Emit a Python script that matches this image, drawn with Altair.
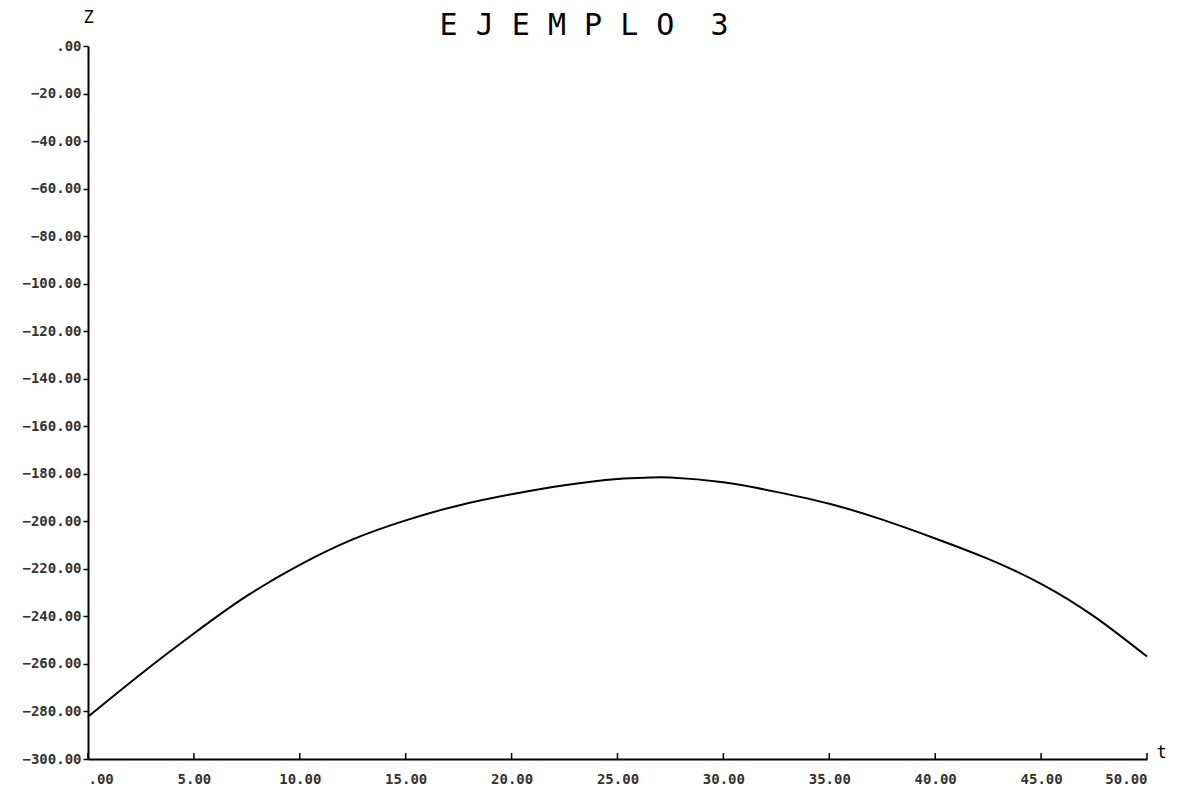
import altair as alt
import pandas as pd

t_values = [0, 2.5, 5, 7.5, 10, 12.5, 15, 17.5, 20, 22.5, 25, 26.5, 27.5, 30,
            32.5, 35, 37.5, 40, 42.5, 45, 47.5, 50]
z_values = [-282.2, -264.2, -247.2, -231.4, -218.3, -207.6, -199.6, -193.3, -188.6,
            -184.8, -182.2, -181.6, -181.6, -183.6, -187.6, -192.6, -199.3, -207.2,
            -215.8, -226.3, -240.0, -256.9]

x_ticks = [0, 5, 10, 15, 20, 25, 30, 35, 40, 45, 50]
y_ticks = [0, -20, -40, -60, -80, -100, -120, -140, -160, -180, -200, -220, -240, -260, -280, -300]

title_text = "E\u00a0J\u00a0E\u00a0M\u00a0P\u00a0L\u00a0O\u00a0\u00a03"

df = pd.DataFrame({"t": t_values, "z": z_values})
ticks_df = pd.DataFrame({"t": x_ticks})
title_df = pd.DataFrame({"label": [title_text]})

label_expr = "datum.value == 0 ? '.00' : format(datum.value, '.2f')"

common_axis = dict(
    grid=False,
    domainColor="black",
    domainWidth=2,
    tickColor="black",
    tickWidth=1.5,
    labelFont="DejaVu Sans Mono",
    labelFontWeight="bold",
    labelFontSize=14,
    labelColor="#333333",
    titleColor="black",
    titleFontWeight="normal",
    titleFont="DejaVu Sans Mono",
    titleFontSize=17,
    titleAngle=0,
    titleBaseline="alphabetic",
    labelExpr=label_expr,
)

x_scale = alt.Scale(domain=[0, 50], nice=False)
y_scale = alt.Scale(domain=[-300, 0], nice=False)

line = alt.Chart(df).mark_line(color="black", strokeWidth=2, interpolate="natural").encode(
    x=alt.X("t:Q", scale=x_scale,
            axis=alt.Axis(values=x_ticks, title="t", ticks=False,
                          titleX=1068, titleY=-2, titleAlign="left",
                          labelPadding=13, **common_axis)),
    y=alt.Y("z:Q", scale=y_scale,
            axis=alt.Axis(values=y_ticks, title="Z", tickSize=5,
                          titleX=0, titleY=-24, titleAlign="center",
                          labelPadding=2, **common_axis)),
)

# inward x ticks, as in the plotter original
xticks = alt.Chart(ticks_df).mark_rule(color="black", strokeWidth=1.5).encode(
    x=alt.X("t:Q", scale=x_scale),
    y=alt.value(713),
    y2=alt.value(707),
)

title = alt.Chart(title_df).mark_text(
    font="DejaVu Sans Mono", fontSize=30, color="black", align="center", baseline="alphabetic"
).encode(
    text="label:N",
    x=alt.value(496),
    y=alt.value(-11),
)

chart = alt.layer(line, xticks, title).properties(
    width=1059,
    height=713,
    background="white",
    autosize=alt.AutoSizeParams(type="none"),
    padding={"left": 80, "top": 38, "right": 23, "bottom": 26},
).configure_view(stroke=None)

chart.save("out.html", embed_options={"renderer": "svg", "actions": False})
